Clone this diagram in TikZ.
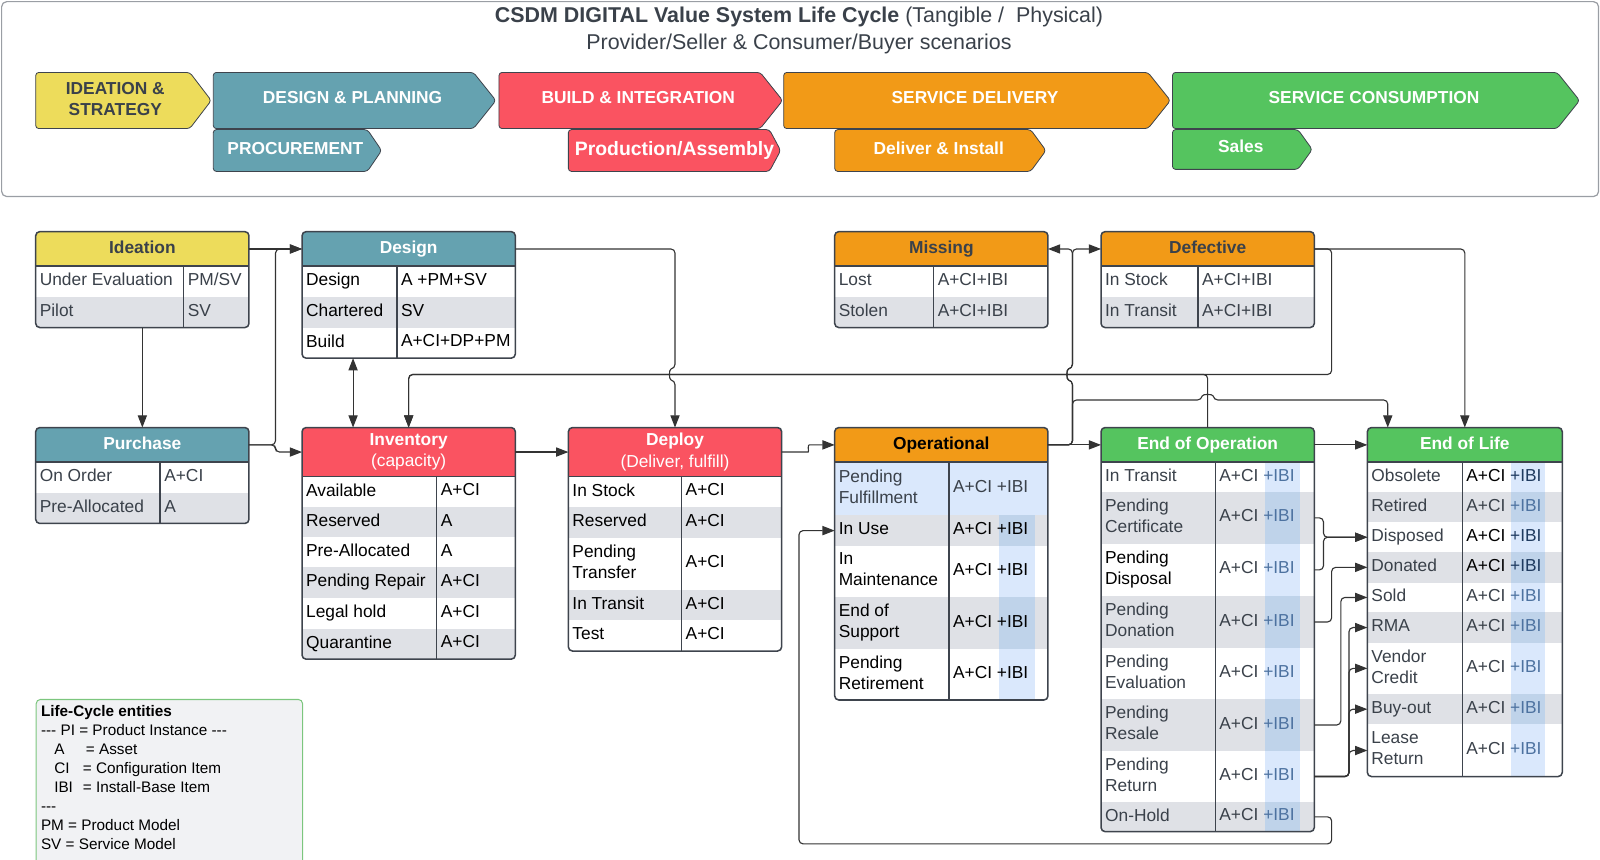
\documentclass[tikz,border=0pt]{standalone}
\usepackage{fontspec}
\setmainfont{Liberation Sans}
\usetikzlibrary{arrows.meta,calc}
\definecolor{cyel}{HTML}{EDDC5B}
\definecolor{cteal}{HTML}{65A2B0}
\definecolor{cred}{HTML}{FA5361}
\definecolor{corg}{HTML}{F29A17}
\definecolor{cgrn}{HTML}{55C45F}
\definecolor{rowg}{HTML}{DFE1E6}
\definecolor{bluL}{HTML}{DAE8FC}
\definecolor{bluD}{HTML}{BFD3EA}
\definecolor{bdr}{HTML}{3E444D}
\definecolor{tgray}{HTML}{3A414A}
\definecolor{ibi}{HTML}{4D72A0}
\definecolor{ibiD}{HTML}{1E3A5F}
\definecolor{lgb}{HTML}{7CC67E}
\definecolor{lgf}{HTML}{F1F2F4}
\definecolor{lnc}{HTML}{333333}
\definecolor{bbord}{HTML}{9A9EA4}
\newcommand\cellfont{\fontsize{17}{20.5}\selectfont}
\newcommand\headfont{\fontsize{17}{21}\selectfont}
\newcommand\banfont{\fontsize{17}{20}\selectfont\bfseries}
\newcommand\prodfont{\fontsize{19}{22}\selectfont\bfseries}
\newcommand\titfont{\fontsize{21}{25}\selectfont}
\newcommand\legfont{\fontsize{15}{18.6}\selectfont}
\newcommand\cellstrut{\rule[-4pt]{0pt}{16pt}}
\newcommand\hy{\mbox{-}}
\newcommand\ibg{A+CI \textcolor{ibi}{+IBI}}
\newcommand\ibk{\textcolor{black}{A+CI \textcolor{ibiD}{+IBI}}}
\newcommand\tbHead[8]{\node[hdr, fill=#6, text=#7, minimum width={#3-#2}, minimum height={#5-#4}] (#1H) at ({(#2+#3)/2},{(#4+#5)/2}) {#8};}
\newcommand\tbRow[6]{\node[rowbox, fill=#6, minimum width={#3-#2}, minimum height={#5-#4}] (#1) at ({(#2+#3)/2},{(#4+#5)/2}) {};}
\newcommand\tbText[5]{\node[cell, anchor=west] (#1n) at ({#2+4},0 |- #1) {#4};
  \node[cell, anchor=west] (#1v) at ({#3+4},0 |- #1) {#5};}
\newcommand\tbFrame[7]{\draw[hline] (#2,#6) -- (#4,#6); \draw[vline] (#3,#6) -- (#3,#7);
  \node[frame, minimum width={#4-#2}, minimum height={#7-#5}] (#1F) at ({(#2+#4)/2},{(#5+#7)/2}) {};}
\newcommand\chevA[6]{\draw[chev, fill=#6] (#1,#3) -- ({#2-#5},#3) -- (#2,{(#3+#4)/2}) -- ({#2-#5},#4) -- (#1,#4) -- cycle;}
\begin{document}
\begin{tikzpicture}[x=1pt,y=-1pt,
  >={Triangle[length=12pt,width=9pt]},
  conn/.style={draw=lnc, line width=1.1pt, rounded corners=4pt},
  rowbox/.style={inner sep=0, outer sep=0, draw=none},
  hdr/.style={inner sep=0, outer sep=0, font=\headfont, align=center, execute at begin node=\cellstrut, execute at end node=\cellstrut},
  cell/.style={inner sep=0, outer sep=0, font=\cellfont, text=tc, align=left, execute at begin node=\cellstrut, execute at end node=\cellstrut},
  frame/.style={draw=bdr, line width=1.5pt, rounded corners=4pt, inner sep=0, outer sep=0},
  hline/.style={draw=bdr, line width=1.8pt},
  vline/.style={draw=bdr, line width=1.4pt},
  chev/.style={draw=bdr, line width=0.8pt, rounded corners=3pt},
  bann/.style={font=\banfont, text=white, align=center, inner sep=0}]
\useasboundingbox (0,0) rectangle (1568,842);
\colorlet{tc}{tgray}
% ---------- banner ----------
\node[draw=bbord, line width=1.2pt, rounded corners=5pt, minimum width=1565pt, minimum height=191pt, anchor=north west, inner sep=0] (banF) at (1,1) {};
\node[font=\titfont, text=tgray, inner sep=0] (tit1) at (783,17) {\textbf{CSDM DIGITAL Value System Life Cycle} (Tangible /\ \ Physical)};
\node[font=\titfont, text=tgray, inner sep=0] (tit2) at (783,43) {Provider/Seller \& Consumer/Buyer scenarios};
\chevA{35}{207}{71}{126}{21}{cyel}
\chevA{209}{486}{71}{126}{22}{cteal}
\chevA{489}{767}{71}{126}{22}{cred}
\chevA{768}{1147}{71}{126}{22}{corg}
\chevA{1149}{1548}{71}{126}{22}{cgrn}
\chevA{209}{374}{127}{168}{14}{cteal}
\chevA{557}{765}{127}{168}{11}{cred}
\chevA{818}{1025}{127}{168}{15}{corg}
\chevA{1149}{1286}{127}{166}{14}{cgrn}
\node[bann, text=tgray] (bIde) at (113,97) {IDEATION \&\\STRATEGY};
\node[bann] (bDes) at (345.5,95.5) {DESIGN \& PLANNING};
\node[bann] (bBui) at (625.5,95.5) {BUILD \& INTEGRATION};
\node[bann] (bSer) at (955.5,95.5) {SERVICE DELIVERY};
\node[bann] (bCon) at (1346.5,95.5) {SERVICE CONSUMPTION};
\node[bann] (bPro) at (289.5,145.5) {PROCUREMENT};
\node[bann, font=\prodfont] (bPrd) at (661,147) {Production/Assembly};
\node[bann] (bDel) at (920,145) {Deliver \& Install};
\node[bann] (bSal) at (1216,143) {Sales};
% ---------- Ideation ----------
\colorlet{tc}{tgray}
\begin{scope}
\clip[rounded corners=4pt] (35,227) rectangle (244,321);
\tbHead{ide}{35}{244}{227}{261}{cyel}{tgray}{\textbf{Ideation}}
\tbRow{ide1}{35}{244}{261}{291}{white}
\tbRow{ide2}{35}{244}{291}{321}{rowg}
\tbText{ide1}{35}{180}{Under Evaluation}{PM/SV}
\tbText{ide2}{35}{180}{Pilot}{SV}
\end{scope}
\tbFrame{ide}{35}{180}{244}{227}{261}{321}
% ---------- Design ----------
\colorlet{tc}{black}
\begin{scope}
\clip[rounded corners=4pt] (296,227) rectangle (505,351);
\tbHead{des}{296}{505}{227}{261}{cteal}{white}{\textbf{Design}}
\tbRow{des1}{296}{505}{261}{291}{white}
\tbRow{des2}{296}{505}{291}{321}{rowg}
\tbRow{des3}{296}{505}{321}{351}{white}
\tbText{des1}{296}{389}{Design}{A +PM+SV}
\tbText{des2}{296}{389}{Chartered}{SV}
\tbText{des3}{296}{389}{Build}{A+CI+DP+PM}
\end{scope}
\tbFrame{des}{296}{389}{505}{227}{261}{351}
% ---------- Purchase ----------
\colorlet{tc}{tgray}
\begin{scope}
\clip[rounded corners=4pt] (35,419) rectangle (244,513);
\tbHead{pur}{35}{244}{419}{453}{cteal}{white}{\textbf{Purchase}}
\tbRow{pur1}{35}{244}{453}{483}{white}
\tbRow{pur2}{35}{244}{483}{513}{rowg}
\tbText{pur1}{35}{157}{On Order}{A+CI}
\tbText{pur2}{35}{157}{Pre-Allocated}{A}
\end{scope}
\tbFrame{pur}{35}{157}{244}{419}{453}{513}
% ---------- Inventory ----------
\colorlet{tc}{black}
\begin{scope}
\clip[rounded corners=4pt] (296,419) rectangle (505,646);
\tbHead{inv}{296}{505}{419}{467}{cred}{white}{\textbf{Inventory}\\(capacity)}
\tbRow{inv1}{296}{505}{467}{497}{white}
\tbRow{inv2}{296}{505}{497}{526}{rowg}
\tbRow{inv3}{296}{505}{526}{556}{white}
\tbRow{inv4}{296}{505}{556}{586}{rowg}
\tbRow{inv5}{296}{505}{586}{616}{white}
\tbRow{inv6}{296}{505}{616}{646}{rowg}
\tbText{inv1}{296}{428}{Available}{A+CI}
\tbText{inv2}{296}{428}{Reserved}{A}
\tbText{inv3}{296}{428}{Pre-Allocated}{A}
\tbText{inv4}{296}{428}{Pending Repair}{A+CI}
\tbText{inv5}{296}{428}{Legal hold}{A+CI}
\tbText{inv6}{296}{428}{Quarantine}{A+CI}
\end{scope}
\tbFrame{inv}{296}{428}{505}{419}{467}{646}
% ---------- Deploy ----------
\colorlet{tc}{black}
\begin{scope}
\clip[rounded corners=4pt] (557,419) rectangle (766,638);
\tbHead{dep}{557}{766}{419}{467}{cred}{white}{\textbf{Deploy}\\(Deliver, fulfill)}
\tbRow{dep1}{557}{766}{467}{497}{white}
\tbRow{dep2}{557}{766}{497}{527}{rowg}
\tbRow{dep3}{557}{766}{527}{578}{white}
\tbRow{dep4}{557}{766}{578}{608}{rowg}
\tbRow{dep5}{557}{766}{608}{638}{white}
\tbText{dep1}{557}{668}{In Stock}{A+CI}
\tbText{dep2}{557}{668}{Reserved}{A+CI}
\tbText{dep3}{557}{668}{Pending\\Transfer}{A+CI}
\tbText{dep4}{557}{668}{In Transit}{A+CI}
\tbText{dep5}{557}{668}{Test}{A+CI}
\end{scope}
\tbFrame{dep}{557}{668}{766}{419}{467}{638}
% ---------- Operational ----------
\colorlet{tc}{black}
\begin{scope}
\clip[rounded corners=4pt] (818,419) rectangle (1027,686);
\tbHead{op}{818}{1027}{419}{453}{corg}{black}{\textbf{Operational}}
\tbRow{op1}{818}{1027}{453}{505}{bluL}
\tbRow{op2}{818}{1027}{505}{535}{rowg}
\tbRow{op3}{818}{1027}{535}{585}{white}
\tbRow{op4}{818}{1027}{585}{636}{rowg}
\tbRow{op5}{818}{1027}{636}{686}{white}
\fill[bluL] (979,505) rectangle (1014,686);
\fill[bluD] (979,505) rectangle (1014,535);
\fill[bluD] (979,585) rectangle (1014,636);
\colorlet{tc}{tgray}
\tbText{op1}{818}{930}{Pending\\Fulfillment}{A+CI +IBI}
\colorlet{tc}{black}
\tbText{op2}{818}{930}{In Use}{A+CI +IBI}
\tbText{op3}{818}{930}{In\\Maintenance}{A+CI +IBI}
\tbText{op4}{818}{930}{End of\\Support}{A+CI +IBI}
\tbText{op5}{818}{930}{Pending\\Retirement}{A+CI +IBI}
\end{scope}
\tbFrame{op}{818}{930}{1027}{419}{453}{686}
% ---------- Missing ----------
\colorlet{tc}{tgray}
\begin{scope}
\clip[rounded corners=4pt] (818,227) rectangle (1027,321);
\tbHead{mis}{818}{1027}{227}{261}{corg}{tgray}{\textbf{Missing}}
\tbRow{mis1}{818}{1027}{261}{291}{white}
\tbRow{mis2}{818}{1027}{291}{321}{rowg}
\tbText{mis1}{818}{915}{Lost}{A+CI+IBI}
\tbText{mis2}{818}{915}{Stolen}{A+CI+IBI}
\end{scope}
\tbFrame{mis}{818}{915}{1027}{227}{261}{321}
% ---------- Defective ----------
\begin{scope}
\clip[rounded corners=4pt] (1079,227) rectangle (1288,321);
\tbHead{def}{1079}{1288}{227}{261}{corg}{tgray}{\textbf{Defective}}
\tbRow{def1}{1079}{1288}{261}{291}{white}
\tbRow{def2}{1079}{1288}{291}{321}{rowg}
\tbText{def1}{1079}{1174}{In Stock}{A+CI+IBI}
\tbText{def2}{1079}{1174}{In Transit}{A+CI+IBI}
\end{scope}
\tbFrame{def}{1079}{1174}{1288}{227}{261}{321}
% ---------- End of Operation ----------
\begin{scope}
\clip[rounded corners=4pt] (1079,419) rectangle (1288,815);
\tbHead{eoo}{1079}{1288}{419}{453}{cgrn}{white}{\textbf{End of Operation}}
\tbRow{eoo1}{1079}{1288}{453}{482}{white}
\tbRow{eoo2}{1079}{1288}{482}{533}{rowg}
\tbRow{eoo3}{1079}{1288}{533}{584}{white}
\tbRow{eoo4}{1079}{1288}{584}{635}{rowg}
\tbRow{eoo5}{1079}{1288}{635}{685}{white}
\tbRow{eoo6}{1079}{1288}{685}{736}{rowg}
\tbRow{eoo7}{1079}{1288}{736}{786}{white}
\tbRow{eoo8}{1079}{1288}{786}{815}{rowg}
\fill[bluL] (1240,453) rectangle (1274,815);
\fill[bluD] (1240,482) rectangle (1274,533);
\fill[bluD] (1240,584) rectangle (1274,635);
\fill[bluD] (1240,685) rectangle (1274,736);
\fill[bluD] (1240,786) rectangle (1274,815);
\tbText{eoo1}{1079}{1191}{In Transit}{\ibg}
\tbText{eoo2}{1079}{1191}{Pending\\Certificate}{\ibg}
\node[cell, anchor=west, text=black] (eoo3n) at ({1079+4},0 |- eoo3) {Pending\\Disposal};
\node[cell, anchor=west] (eoo3v) at ({1191+4},0 |- eoo3) {\ibg};
\tbText{eoo4}{1079}{1191}{Pending\\Donation}{\ibg}
\tbText{eoo5}{1079}{1191}{Pending\\Evaluation}{\ibg}
\tbText{eoo6}{1079}{1191}{Pending\\Resale}{\ibg}
\tbText{eoo7}{1079}{1191}{Pending\\Return}{\ibg}
\tbText{eoo8}{1079}{1191}{On-Hold}{\ibg}
\end{scope}
\tbFrame{eoo}{1079}{1191}{1288}{419}{453}{815}
% ---------- End of Life ----------
\begin{scope}
\clip[rounded corners=4pt] (1340,419) rectangle (1531,761);
\tbHead{eol}{1340}{1531}{419}{453}{cgrn}{white}{\textbf{End of Life}}
\tbRow{eol1}{1340}{1531}{453}{482}{white}
\tbRow{eol2}{1340}{1531}{482}{512}{rowg}
\tbRow{eol3}{1340}{1531}{512}{541}{white}
\tbRow{eol4}{1340}{1531}{541}{571}{rowg}
\tbRow{eol5}{1340}{1531}{571}{600}{white}
\tbRow{eol6}{1340}{1531}{600}{630}{rowg}
\tbRow{eol7}{1340}{1531}{630}{680}{white}
\tbRow{eol8}{1340}{1531}{680}{710}{rowg}
\tbRow{eol9}{1340}{1531}{710}{761}{white}
\fill[bluL] (1481,453) rectangle (1514,761);
\fill[bluD] (1481,482) rectangle (1514,512);
\fill[bluD] (1481,541) rectangle (1514,571);
\fill[bluD] (1481,600) rectangle (1514,630);
\fill[bluD] (1481,680) rectangle (1514,710);
\tbText{eol1}{1340}{1433}{Obsolete}{\ibk}
\tbText{eol2}{1340}{1433}{Retired}{\ibg}
\tbText{eol3}{1340}{1433}{Disposed}{\ibk}
\tbText{eol4}{1340}{1433}{Donated}{\ibk}
\tbText{eol5}{1340}{1433}{Sold}{\ibg}
\tbText{eol6}{1340}{1433}{RMA}{\ibg}
\tbText{eol7}{1340}{1433}{Vendor\\Credit}{\ibg}
\tbText{eol8}{1340}{1433}{Buy-out}{\ibg}
\tbText{eol9}{1340}{1433}{Lease\\Return}{\ibg}
\end{scope}
\tbFrame{eol}{1340}{1433}{1531}{419}{453}{761}
% ---------- Legend ----------
\node[draw=lgb, fill=lgf, line width=1pt, rounded corners=4pt, minimum width=261pt, minimum height=162pt, anchor=north west, inner sep=0] (legF) at (35,685) {};
\node[anchor=north west, inner sep=0, align=left, font=\legfont, text=black] (legT) at (40,691) {\textbf{Life-Cycle entities}\\
\hy\hy\hy\ PI = Product Instance \hy\hy\hy\\
\hspace*{13pt}\makebox[31pt][l]{A}= Asset\\
\hspace*{13pt}\makebox[28pt][l]{CI}= Configuration Item\\
\hspace*{13pt}\makebox[28pt][l]{IBI}= Install-Base Item\\
\hy\hy\hy\\
PM = Product Model\\
SV = Service Model};
% ---------- connectors ----------
\draw[conn,->] (ideH.east) -- (desH.west);
\draw[conn,->] (purH.east) -- (270,436) -- (270,244) -- (desH.west);
\draw[conn,->] (purH.east) -- (270,436) -- (270,443) -- (invH.west);
\draw[conn,->] (ideF.south) -- (purH.north);
\draw[conn,<->] (desF.south -| 346,0) -- (invH.north -| 346,0);
\draw[conn,->] (desH.east) -- (661.5,244) -- (661.5,361) .. controls (655.5,362) and (655.5,372) .. (661.5,373) -- (depH.north);
\draw[conn,->] (defH.east) -- (1305,244) -- (1305,367) -- (400.5,367) -- (invH.north);
\draw[conn,->] (eooH.north) -- (1183.5,367) -- (400.5,367) -- (invH.north);
\draw[conn,->] (defH.east) -- (1435.5,244) -- (eolH.north);
\draw[conn,->] (opH.east) -- (1051,436) -- (1051,373) .. controls (1045,372) and (1045,362) .. (1051,361) -- (1051,244) -- (misH.east);
\draw[conn,->] (opH.east) -- (1051,436) -- (1051,373) .. controls (1045,372) and (1045,362) .. (1051,361) -- (1051,244) -- (defH.west);
\draw[conn,->] (opH.east) -- (eooH.west);
\draw[conn,->] (opH.east) -- (1051,436) -- (1051,392) -- (1177.5,392) .. controls (1178.5,386) and (1188.5,386) .. (1189.5,392) -- (1360,392) -- (eolH.north -| 1360,0);
\draw[conn,->] (eooH.east) -- (eolH.west);
\draw[conn,->] (invH.east) -- (depH.west);
\draw[conn,->] (depH.east) -- (788,443) .. controls (793,443) and (791,436) .. (797,436) -- (opH.west);
\draw[conn,->] (eoo8.east) -- (1305,800.5) -- (1305,827) -- (783,827) -- (783,520) -- (op2.west);
\draw[conn,->] (eoo2.east) -- (1297,507.5) -- (1297,526.5) -- (eol3.west);
\draw[conn,->] (eoo3.east) -- (1297,558.5) -- (1297,526.5) -- (eol3.west);
\draw[conn,->] (eoo4.east) -- (1305,609.5) -- (1305,556) -- (eol4.west);
\draw[conn,->] (eoo6.east) -- (1314,710.5) -- (1314,585.5) -- (eol5.west);
\foreach \t in {eol6,eol7,eol8,eol9}
  \draw[conn,->] (eoo7.east) -- (1322,761) -- (1322,0 |- \t.west) -- (\t.west);
\end{tikzpicture}
\end{document}
